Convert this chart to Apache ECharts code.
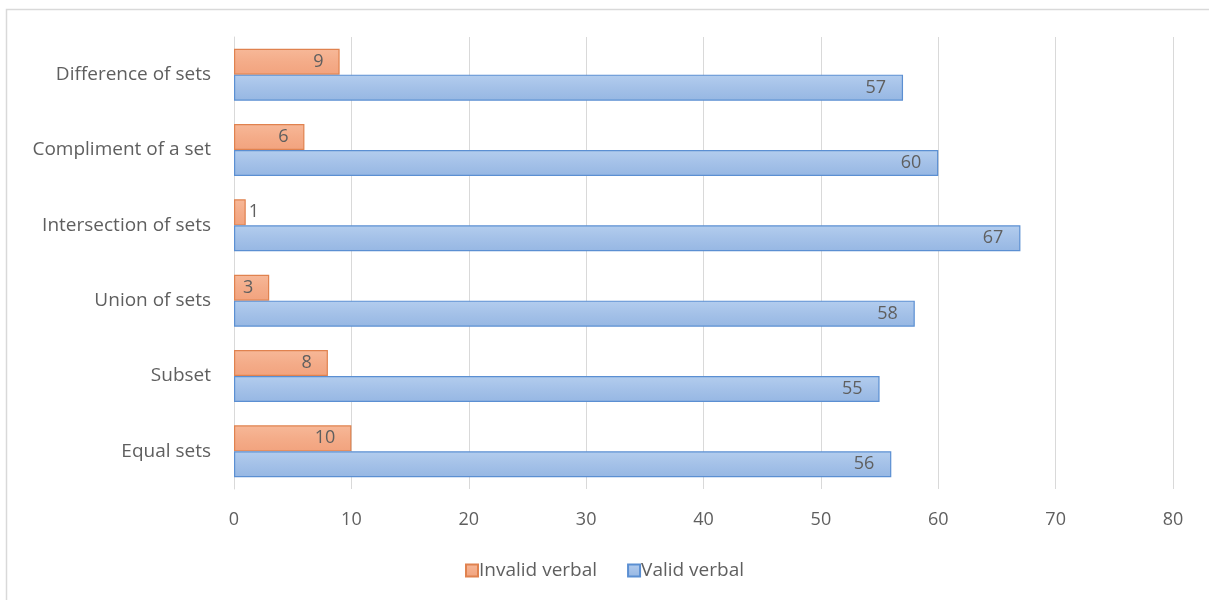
<!DOCTYPE html>
<html>
<head>
<meta charset="utf-8">
<script src="https://cdn.jsdelivr.net/npm/echarts@6/dist/echarts.min.js"></script>
<style>
  html, body { margin: 0; padding: 0; background: #fff; }
  #chart { width: 1209px; height: 600px; }
</style>
</head>
<body>
<div id="chart"></div>
<script>
// Categories listed bottom to top along the y axis
const categories = ['Equal sets', 'Subset', 'Union of sets', 'Intersection of sets', 'Compliment of a set', 'Difference of sets'];
const invalidVerbal = [10, 8, 3, 1, 6, 9];
const validVerbal = [56, 55, 58, 67, 60, 57];
const xTicks = { min: 0, max: 80, interval: 10 };

const FONT = 'Open Sans';
const TEXT = '#5f5f5f';
const FS = 19;

const chart = echarts.init(document.getElementById('chart'));

// Values too short to hold their label get it placed just past the bar end
function labelFor(values, smallLimit) {
  return values.map(v => v <= smallLimit
    ? { value: v, label: { position: 'right', distance: 3 } }
    : v);
}

chart.setOption({
  animation: false,
  graphic: [{
    type: 'rect',
    shape: { x: 6.5, y: 9.5, width: 1300, height: 700 },
    style: { fill: 'none', stroke: '#d9d9d9', lineWidth: 1.5 },
    silent: true
  }],
  grid: { left: 234, right: 36, top: 37, bottom: 111, containLabel: false },
  legend: {
    bottom: 15,
    left: 'center',
    icon: 'rect',
    itemWidth: 12,
    itemHeight: 12,
    itemGap: 30,
    textStyle: { color: TEXT, fontFamily: FONT, fontSize: FS, padding: [0, 0, 0, -4] },
    data: ['Invalid verbal', 'Valid verbal']
  },
  xAxis: {
    type: 'value',
    min: xTicks.min, max: xTicks.max, interval: xTicks.interval,
    axisLine: { show: false },
    axisTick: { show: false },
    axisLabel: { color: TEXT, fontFamily: FONT, fontSize: FS - 1, margin: 22 },
    splitLine: { lineStyle: { color: '#d9d9d9', width: 1 } }
  },
  yAxis: {
    type: 'category',
    data: categories,
    axisLine: { show: true, lineStyle: { color: '#d9d9d9' } },
    axisTick: { show: false },
    axisLabel: { color: TEXT, fontFamily: FONT, fontSize: FS, margin: 23 }
  },
  series: [
    {
      name: 'Invalid verbal',
      type: 'bar',
      data: labelFor(invalidVerbal, 1),
      barGap: '0%',
      barCategoryGap: '31%',
      itemStyle: {
        color: new echarts.graphic.LinearGradient(0, 0, 0, 1, [
          { offset: 0, color: '#f7b898' },
          { offset: 0.5, color: '#f4ac89' },
          { offset: 1, color: '#f2a37e' }
        ]),
        borderColor: '#e0824f',
        borderWidth: 1.2
      },
      label: {
        show: true, position: 'insideRight', distance: 16,
        color: TEXT, fontFamily: FONT, fontSize: FS - 1
      }
    },
    {
      name: 'Valid verbal',
      type: 'bar',
      data: validVerbal,
      barGap: '0%',
      barCategoryGap: '31%',
      itemStyle: {
        color: new echarts.graphic.LinearGradient(0, 0, 0, 1, [
          { offset: 0, color: '#b3cdee' },
          { offset: 0.5, color: '#a4c1e8' },
          { offset: 1, color: '#96b7e3' }
        ]),
        borderColor: '#5b8fd2',
        borderWidth: 1.2
      },
      label: {
        show: true, position: 'insideRight', distance: 17,
        color: TEXT, fontFamily: FONT, fontSize: FS - 1
      }
    }
  ]
});
</script>
</body>
</html>
